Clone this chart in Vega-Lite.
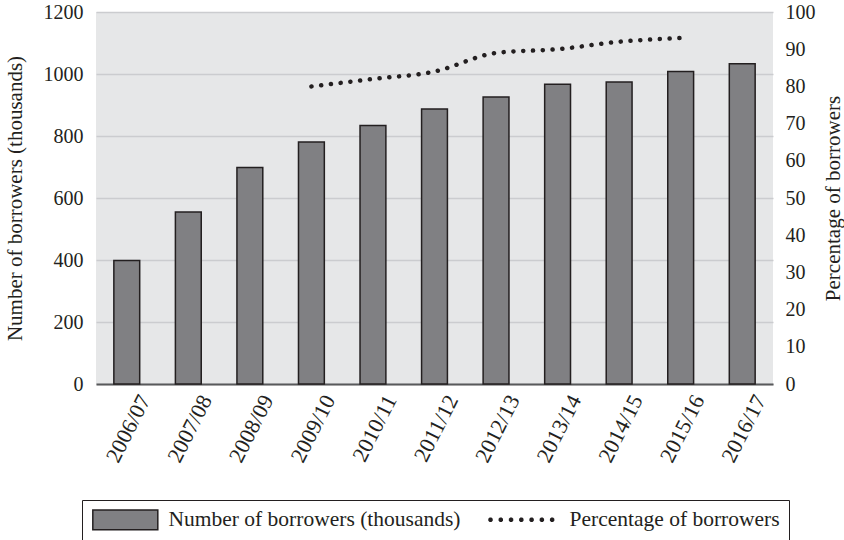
{
  "$schema": "https://vega.github.io/schema/vega-lite/v6.json",
  "width": 677,
  "height": 372,
  "autosize": {"type": "none"},
  "padding": {"left": 96, "top": 12, "right": 71, "bottom": 156},
  "background": "white",
  "config": {
    "font": "Liberation Serif",
    "view": {"fill": "#e6e7e8", "stroke": null},
    "axis": {
      "labelFont": "Liberation Serif",
      "titleFont": "Liberation Serif",
      "labelFontSize": 20,
      "titleFontSize": 21,
      "labelColor": "#231f20",
      "titleColor": "#231f20",
      "titleFontWeight": "normal",
      "ticks": false,
      "domain": false
    },
    "legend": {
      "labelFont": "Liberation Serif",
      "labelFontSize": 21.5,
      "labelColor": "#231f20",
      "labelLimit": 0
    }
  },
  "data": {
    "values": [
      {"year": "2006/07", "borrowers": 398, "pct": null},
      {"year": "2007/08", "borrowers": 555, "pct": null},
      {"year": "2008/09", "borrowers": 698, "pct": null},
      {"year": "2009/10", "borrowers": 781, "pct": 80},
      {"year": "2010/11", "borrowers": 834, "pct": 82},
      {"year": "2011/12", "borrowers": 887, "pct": 84},
      {"year": "2012/13", "borrowers": 926, "pct": 89},
      {"year": "2013/14", "borrowers": 967, "pct": 90},
      {"year": "2014/15", "borrowers": 974, "pct": 92},
      {"year": "2015/16", "borrowers": 1008, "pct": 93},
      {"year": "2016/17", "borrowers": 1033, "pct": null}
    ]
  },
  "layer": [
    {
      "mark": {"type": "bar", "strokeWidth": 1.5},
      "encoding": {
        "x": {
          "field": "year",
          "type": "ordinal",
          "scale": {"paddingInner": 0.58, "paddingOuter": 0.29},
          "axis": {
            "title": null,
            "labelAngle": -63,
            "labelFontSize": 22,
            "domain": true,
            "domainColor": "#58595b",
            "domainWidth": 2,
            "labelPadding": 12,
            "labelOffset": 18
          }
        },
        "y": {
          "field": "borrowers",
          "type": "quantitative",
          "scale": {"domain": [0, 1200]},
          "axis": {
            "title": "Number of borrowers (thousands)",
            "values": [0, 200, 400, 600, 800, 1000, 1200],
            "format": "d",
            "gridColor": "#cbcccf",
            "gridWidth": 1.5,
            "labelPadding": 13,
            "titlePadding": 18
          }
        },
        "color": {
          "datum": "Number of borrowers (thousands)",
          "type": "nominal",
          "scale": {
            "domain": ["Number of borrowers (thousands)", "Percentage of borrowers"],
            "range": ["#808083", "transparent"]
          },
          "legend": {
            "title": null,
            "orient": "none",
            "legendX": -14,
            "legendY": 488,
            "direction": "horizontal",
            "strokeColor": "#231f20",
            "padding": 9,
            "symbolSize": 264,
            "symbolType": "M-1.1,-1.23H6.9V1.23H-1.1Z",
            "symbolStrokeWidth": 1.5,
            "columnPadding": 29,
            "labelOffset": 56,
            "labelLimit": 0
          }
        },
        "stroke": {
          "datum": "Number of borrowers (thousands)",
          "type": "nominal",
          "scale": {
            "domain": ["Number of borrowers (thousands)", "Percentage of borrowers"],
            "range": ["#231f20", "transparent"]
          },
          "legend": {
            "title": null,
            "orient": "none",
            "legendX": -14,
            "legendY": 488,
            "direction": "horizontal",
            "strokeColor": "#231f20",
            "padding": 9,
            "symbolSize": 264,
            "symbolType": "M-1.1,-1.23H6.9V1.23H-1.1Z",
            "symbolStrokeWidth": 1.5,
            "columnPadding": 29,
            "labelOffset": 56,
            "labelLimit": 0
          }
        }
      }
    },
    {
      "transform": [{"filter": "isValid(datum.pct)"}],
      "mark": {
        "type": "line",
        "interpolate": "monotone",
        "strokeCap": "round"
      },
      "encoding": {
        "x": {"field": "year", "type": "ordinal"},
        "y": {
          "field": "pct",
          "type": "quantitative",
          "scale": {"domain": [0, 100]},
          "axis": {
            "orient": "right",
            "title": "Percentage of borrowers",
            "titleAngle": 270,
            "grid": false,
            "values": [0, 10, 20, 30, 40, 50, 60, 70, 80, 90, 100],
            "labelPadding": 12,
            "titlePadding": 28
          }
        },
        "color": {"value": "#231f20"},
        "strokeWidth": {"value": 4.5},
        "strokeDash": {"value": [0.1, 9.7]},
        "opacity": {
          "datum": "Percentage of borrowers",
          "type": "ordinal",
          "scale": {"domain": ["Percentage of borrowers"], "range": [1]},
          "legend": {
            "title": null,
            "orient": "none",
            "legendX": 381,
            "legendY": 488,
            "direction": "horizontal",
            "padding": 9,
            "symbolSize": 264,
            "symbolType": "M-0.586,0.075L-0.693,0.182L-0.843,0.182L-0.950,0.075L-0.950,-0.075L-0.843,-0.182L-0.693,-0.182L-0.586,-0.075ZM-0.700,0.028L-0.740,0.068L-0.796,0.068L-0.836,0.028L-0.836,-0.028L-0.796,-0.068L-0.740,-0.068L-0.700,-0.028ZM0.678,0.075L0.571,0.182L0.421,0.182L0.314,0.075L0.314,-0.075L0.421,-0.182L0.571,-0.182L0.678,-0.075ZM0.564,0.028L0.524,0.068L0.468,0.068L0.428,0.028L0.428,-0.028L0.468,-0.068L0.524,-0.068L0.564,-0.028ZM1.942,0.075L1.835,0.182L1.685,0.182L1.578,0.075L1.578,-0.075L1.685,-0.182L1.835,-0.182L1.942,-0.075ZM1.828,0.028L1.788,0.068L1.732,0.068L1.692,0.028L1.692,-0.028L1.732,-0.068L1.788,-0.068L1.828,-0.028ZM3.206,0.075L3.099,0.182L2.949,0.182L2.842,0.075L2.842,-0.075L2.949,-0.182L3.099,-0.182L3.206,-0.075ZM3.092,0.028L3.052,0.068L2.996,0.068L2.956,0.028L2.956,-0.028L2.996,-0.068L3.052,-0.068L3.092,-0.028ZM4.470,0.075L4.363,0.182L4.213,0.182L4.106,0.075L4.106,-0.075L4.213,-0.182L4.363,-0.182L4.470,-0.075ZM4.356,0.028L4.316,0.068L4.260,0.068L4.220,0.028L4.220,-0.028L4.260,-0.068L4.316,-0.068L4.356,-0.028ZM5.734,0.075L5.627,0.182L5.477,0.182L5.370,0.075L5.370,-0.075L5.477,-0.182L5.627,-0.182L5.734,-0.075ZM5.620,0.028L5.580,0.068L5.524,0.068L5.484,0.028L5.484,-0.028L5.524,-0.068L5.580,-0.068L5.620,-0.028ZM6.998,0.075L6.891,0.182L6.741,0.182L6.634,0.075L6.634,-0.075L6.741,-0.182L6.891,-0.182L6.998,-0.075ZM6.884,0.028L6.844,0.068L6.788,0.068L6.748,0.028L6.748,-0.028L6.788,-0.068L6.844,-0.068L6.884,-0.028Z",
            "symbolStrokeColor": "#231f20",
            "symbolFillColor": "#231f20",
            "symbolStrokeWidth": 1.5,
            "labelOffset": 56,
            "labelExpr": "''"
          }
        }
      }
    }
  ],
  "resolve": {"scale": {"y": "independent"}}
}
